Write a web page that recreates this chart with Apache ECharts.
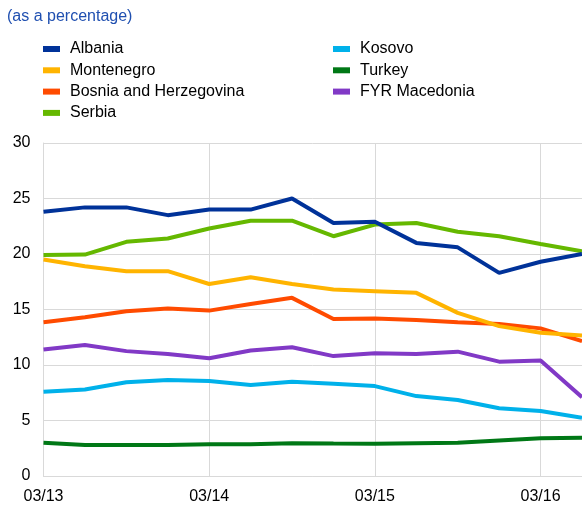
<!DOCTYPE html>
<html><head><meta charset="utf-8">
<script src="https://cdn.jsdelivr.net/npm/echarts@6/dist/echarts.min.js"></script>
<style>html,body{margin:0;padding:0;background:#fff}#c{width:582px;height:505px}</style>
</head><body><div id="c"></div>
<script>
var categories = ['03/13','06/13','09/13','12/13','03/14','06/14','09/14','12/14','03/15','06/15','09/15','12/15','03/16','06/16'];
var albania = [23.8,24.2,24.2,23.5,24.0,24.0,25.0,22.8,22.9,21.0,20.6,18.3,19.3,20.0];
var montenegro = [19.5,18.9,18.45,18.45,17.3,17.9,17.3,16.8,16.65,16.5,14.7,13.5,12.9,12.65];
var bosnia = [13.85,14.3,14.85,15.1,14.9,15.5,16.05,14.15,14.2,14.05,13.85,13.7,13.3,12.15];
var serbia = [19.9,19.95,21.1,21.4,22.3,23.0,23.0,21.6,22.65,22.8,22.0,21.6,20.9,20.25];
var kosovo = [7.6,7.8,8.45,8.65,8.55,8.2,8.5,8.3,8.1,7.2,6.85,6.1,5.85,5.25];
var turkey = [3.0,2.8,2.8,2.8,2.85,2.85,2.95,2.92,2.9,2.95,3.0,3.2,3.4,3.45];
var macedonia = [11.4,11.8,11.25,11.0,10.6,11.3,11.6,10.8,11.05,11.0,11.2,10.3,10.4,7.1];
var yTicks = [0,5,10,15,20,25,30];

var names = ['Albania','Montenegro','Bosnia and Herzegovina','Serbia','Kosovo','Turkey','FYR Macedonia'];
var data = [albania, montenegro, bosnia, serbia, kosovo, turkey, macedonia];
var colors = ['#003299','#ffb400','#ff4b00','#65b800','#00b1ea','#007816','#8139c6'];
var FONT = 'Liberation Sans, Arial, sans-serif';

var chart = echarts.init(document.getElementById('c'), null, {renderer:'canvas'});
var legendBase = {
  orient:'vertical', itemWidth:17, itemHeight:6, itemGap:5.3,
  icon:'rect', textStyle:{fontSize:16, color:'#000', fontFamily:FONT, padding:[0,0,0,5]},
  selectedMode:false, padding:0
};
chart.setOption({
  animation:false,
  color: colors,
  title:{text:'(as a percentage)', left:7, top:9, padding:0,
    textStyle:{fontSize:16, fontWeight:'normal', color:'#1f4fb0', fontFamily:FONT}},
  legend:[
    Object.assign({}, legendBase, {left:43, top:41, data:names.slice(0,4)}),
    Object.assign({}, legendBase, {left:333, top:41, data:names.slice(4)})
  ],
  grid:{left:43.5, right:0, top:143, bottom:28, containLabel:false},
  xAxis:{type:'category', data:categories, boundaryGap:false,
    axisLine:{show:true, lineStyle:{color:'#d9d9d9', width:1}},
    axisTick:{show:false},
    axisLabel:{interval:3, color:'#000', fontSize:16, margin:13, fontFamily:FONT},
    splitLine:{show:true, interval:3, lineStyle:{color:'#d9d9d9', width:1}}},
  yAxis:{type:'value', min:yTicks[0], max:yTicks[yTicks.length-1], interval:5,
    axisLine:{show:true, lineStyle:{color:'#d9d9d9'}},
    axisTick:{show:false},
    axisLabel:{color:'#000', fontSize:16, margin:13, fontFamily:FONT},
    splitLine:{show:true, lineStyle:{color:'#d9d9d9', width:1}}},
  series: names.map(function(n,i){return {name:n, type:'line', data:data[i], showSymbol:false, symbol:'none',
    lineStyle:{width:4, color:colors[i]}, itemStyle:{color:colors[i]}, z:10-i};})
});
</script></body></html>
